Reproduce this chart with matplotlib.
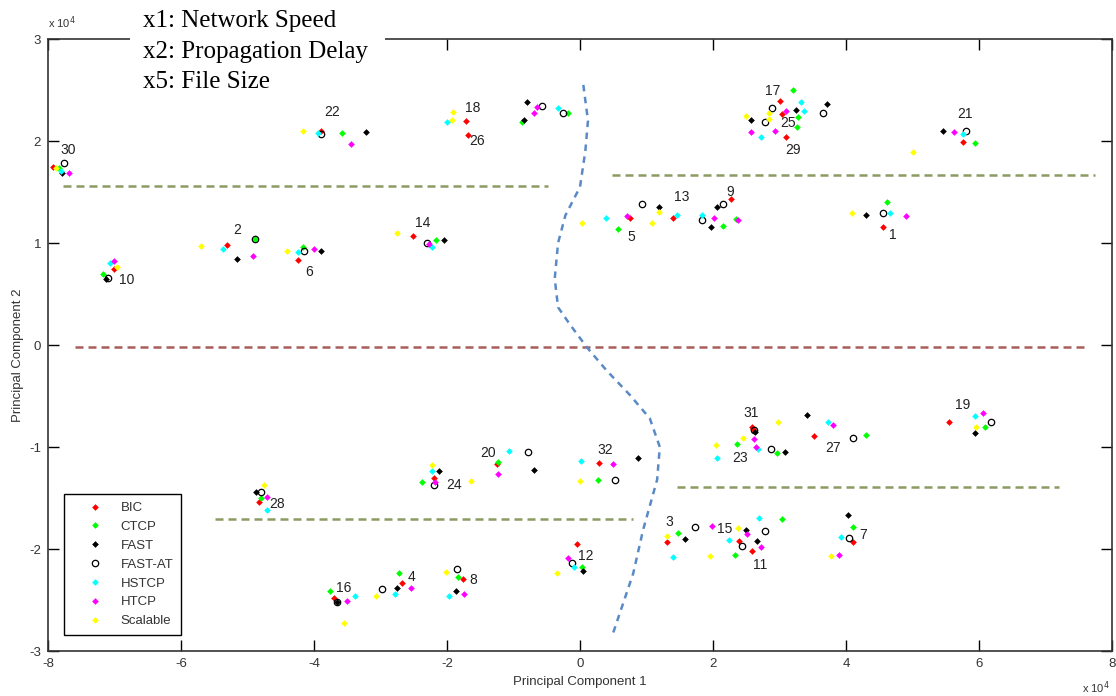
import numpy as np
import matplotlib
matplotlib.use("Agg")
import matplotlib.pyplot as plt
from matplotlib.patches import Rectangle

plt.rcParams['axes.unicode_minus'] = False

# scenario ids 1..32, coordinates in units of 1e4
groups = list(range(1, 33))

bic_x = [4.56, -5.31, 1.31, -2.68, 0.75, -4.24, 4.11, -1.76, 2.27, -7.01, 2.59, -0.05, 1.40, -2.51, 2.39, -3.70,
         3.00, -1.71, 5.55, -1.25, 5.76, -3.89, 2.60, -2.20, 3.04, -1.68, 3.52, -4.83, 3.10, -7.92, 2.59, 0.29]
bic_y = [1.16, 0.98, -1.93, -2.33, 1.25, 0.83, -1.93, -2.29, 1.43, 0.75, -2.02, -1.95, 1.25, 1.07, -1.92, -2.48,
         2.39, 2.20, -0.75, -1.17, 1.99, 2.10, -0.82, -1.30, 2.26, 2.06, -0.89, -1.54, 2.04, 1.75, -0.80, -1.16]

ctcp_x = [4.62, -4.89, 1.47, -2.72, 0.57, -4.17, 4.11, -1.83, 2.35, -7.17, 3.04, 0.03, 2.15, -2.17, 2.33, -3.76,
          3.20, -0.87, 6.09, -1.23, 5.94, -3.58, 2.96, -2.38, 3.28, -0.18, 4.30, -4.80, 3.26, -7.83, 2.36, 0.27]
ctcp_y = [1.40, 1.04, -1.84, -2.24, 1.14, 0.96, -1.78, -2.27, 1.24, 0.70, -1.71, -2.18, 1.17, 1.03, -2.06, -2.41,
          2.50, 2.19, -0.80, -1.15, 1.98, 2.08, -1.06, -1.34, 2.24, 2.27, -0.88, -1.50, 2.14, 1.74, -0.97, -1.32]

fast_x = [4.30, -5.16, 1.58, -2.75, 1.19, -3.89, 4.03, -1.86, 2.06, -7.13, 2.66, 0.05, 1.97, -2.05, 2.50, -3.65,
          3.25, -0.80, 5.94, -0.69, 5.46, -3.22, 3.08, -2.12, 3.71, -0.84, 3.41, -4.87, 2.57, -7.79, 2.63, 0.87]
fast_y = [1.27, 0.84, -1.90, -2.38, 1.35, 0.92, -1.67, -2.41, 1.35, 0.65, -1.92, -2.22, 1.16, 1.03, -1.81, -2.52,
          2.30, 2.38, -0.86, -1.23, 2.10, 2.09, -1.05, -1.24, 2.36, 2.21, -0.69, -1.44, 2.21, 1.69, -0.85, -1.11]

fastat_x = [4.56, -4.89, 1.73, -2.98, 0.93, -4.15, 4.05, -1.85, 2.15, -7.10, 2.78, -0.12, 1.83, -2.30, 2.44, -3.65,
            2.89, -0.57, 6.18, -0.78, 5.80, -3.89, 2.87, -2.20, 3.65, -0.26, 4.11, -4.80, 2.78, -7.76, 2.62, 0.53]
fastat_y = [1.29, 1.04, -1.78, -2.39, 1.38, 0.92, -1.89, -2.20, 1.38, 0.66, -1.82, -2.14, 1.23, 1.00, -1.97, -2.52,
            2.32, 2.34, -0.75, -1.05, 2.10, 2.07, -1.02, -1.37, 2.27, 2.27, -0.91, -1.44, 2.19, 1.78, -0.83, -1.32]

hstcp_x = [4.66, -5.37, 1.40, -2.78, 0.39, -4.24, 3.92, -1.97, 1.83, -7.07, 2.69, -0.09, 1.46, -2.23, 2.24, -3.38,
           3.32, -2.00, 5.94, -1.07, 5.76, -3.94, 2.06, -2.23, 3.37, -0.33, 3.73, -4.71, 2.72, -7.80, 2.68, 0.02]
hstcp_y = [1.29, 0.94, -2.08, -2.44, 1.25, 0.91, -1.88, -2.46, 1.27, 0.80, -1.70, -2.18, 1.27, 0.96, -1.91, -2.46,
           2.38, 2.19, -0.70, -1.04, 2.07, 2.08, -1.11, -1.24, 2.29, 2.32, -0.75, -1.62, 2.04, 1.71, -1.02, -1.14]

htcp_x = [4.90, -4.92, 1.98, -2.54, 0.71, -4.00, 3.89, -1.74, 2.38, -7.01, 2.72, -0.18, 2.02, -2.27, 2.51, -3.50,
          3.10, -0.65, 6.06, -1.23, 5.62, -3.44, 2.65, -2.18, 2.93, -0.69, 3.80, -4.71, 2.57, -7.68, 2.62, 0.49]
htcp_y = [1.26, 0.87, -1.77, -2.38, 1.26, 0.94, -2.06, -2.44, 1.23, 0.82, -1.98, -2.09, 1.25, 0.99, -1.85, -2.51,
          2.29, 2.33, -0.67, -1.26, 2.09, 1.97, -1.00, -1.34, 2.10, 2.27, -0.78, -1.49, 2.09, 1.69, -0.92, -1.17]

scal_x = [4.09, -5.70, 1.31, -3.07, 1.08, -4.41, 3.77, -2.02, 0.03, -6.96, 1.95, -0.35, 1.19, -2.75, 2.38, -3.55,
          2.84, -1.91, 5.95, -1.64, 5.01, -4.17, 2.05, -2.23, 2.50, -1.92, 2.98, -4.75, 2.84, -7.88, 2.45, 0.00]
scal_y = [1.29, 0.97, -1.87, -2.46, 1.20, 0.92, -2.07, -2.23, 1.20, 0.76, -2.07, -2.24, 1.30, 1.10, -1.79, -2.73,
          2.27, 2.28, -0.80, -1.33, 1.89, 2.10, -0.98, -1.18, 2.25, 2.21, -0.75, -1.37, 2.22, 1.74, -0.91, -1.33]

lab_x = [4.71, -5.16, 1.34, -2.54, 0.77, -4.08, 4.26, -1.61, 2.26, -6.81, 2.71, 0.08, 1.53, -2.36, 2.18, -3.56,
         2.90, -1.62, 5.76, -1.38, 5.79, -3.73, 2.41, -1.89, 3.13, -1.55, 3.80, -4.56, 3.20, -7.70, 2.57, 0.38]
lab_y = [1.08, 1.13, -1.74, -2.27, 1.06, 0.72, -1.86, -2.30, 1.50, 0.64, -2.16, -2.07, 1.45, 1.20, -1.80, -2.38,
         2.49, 2.32, -0.59, -1.06, 2.26, 2.28, -1.11, -1.37, 2.18, 2.00, -1.01, -1.56, 1.91, 1.91, -0.67, -1.03]

# hand drawn separators
sep_mid_x = [-7.6, 7.6]
sep_mid_y = [-0.02, -0.02]
sep_ul_x, sep_ul_y = [-7.77, -0.48], [1.56, 1.56]
sep_ur_x, sep_ur_y = [0.48, 7.74], [1.67, 1.67]
sep_ll_x, sep_ll_y = [-5.49, 0.80], [-1.71, -1.71]
sep_lr_x, sep_lr_y = [1.46, 7.20], [-1.39, -1.39]
curve_x = [0.05, 0.12, 0.08, 0.00, -0.22, -0.33, -0.38, -0.33, -0.15, 0.10, 0.40, 0.75, 1.05, 1.20, 1.16, 0.95, 0.80, 0.50]
curve_y = [2.55, 2.20, 1.90, 1.55, 1.27, 1.00, 0.65, 0.37, 0.20, -0.02, -0.25, -0.49, -0.72, -1.00, -1.32, -1.81, -2.24, -2.82]

W, H = 1116, 696
fig = plt.figure(figsize=(W / 100, H / 100), dpi=100)
ax = fig.add_axes([48 / W, 1 - 651 / H, 1064 / W, 612 / H])

olive = '#8c9b62'
ax.plot(sep_mid_x, sep_mid_y, color='#a85e5a', lw=1.8, dashes=(3.2, 2.0))
for sx, sy in [(sep_ul_x, sep_ul_y), (sep_ur_x, sep_ur_y), (sep_ll_x, sep_ll_y), (sep_lr_x, sep_lr_y)]:
    ax.plot(sx, sy, color=olive, lw=1.8, dashes=(3.2, 2.0))
ax.plot(curve_x, curve_y, color='#5a8ac6', lw=1.8, dashes=(2.6, 2.2))

ms = 3.4
ax.plot(bic_x, bic_y, 'D', color='red', ms=ms, mew=0, label='BIC')
ax.plot(ctcp_x, ctcp_y, 'D', color='#00ff00', ms=ms, mew=0, label='CTCP')
ax.plot(fast_x, fast_y, 'D', color='black', ms=ms, mew=0, label='FAST')
ax.plot(fastat_x, fastat_y, 'o', mfc='none', mec='black', ms=4.6, mew=0.9, label='FAST-AT')
ax.plot(hstcp_x, hstcp_y, 'D', color='cyan', ms=ms, mew=0, label='HSTCP')
ax.plot(htcp_x, htcp_y, 'D', color='magenta', ms=ms, mew=0, label='HTCP')
ax.plot(scal_x, scal_y, 'D', color='yellow', ms=ms, mew=0, label='Scalable')

for g, lx, ly in zip(groups, lab_x, lab_y):
    ax.text(lx, ly, str(g), fontsize=10, color='#222222', ha='center', va='center',
            family='Liberation Sans')

ax.set_xlim(-8, 8)
ax.set_ylim(-3, 3)
ax.set_xticks(range(-8, 9, 2))
ax.set_yticks(range(-3, 4))
ax.tick_params(direction='in', length=8, width=1, top=True, right=True,
               labelsize=9.5, labelcolor='#333333', pad=5)
for lbl in ax.get_xticklabels() + ax.get_yticklabels():
    lbl.set_family('Liberation Sans')
for sp in ax.spines.values():
    sp.set_linewidth(1.2)
    sp.set_color('#333333')

leg = ax.legend(loc='lower left', bbox_to_anchor=(0.015, 0.026), frameon=True, fancybox=False,
                edgecolor='black', framealpha=1, borderpad=0.6, handlelength=3.5,
                handletextpad=0.2, labelspacing=0.5, borderaxespad=0,
                prop={'family': 'Liberation Sans', 'size': 9.5})
leg.get_frame().set_linewidth(1.0)
for t in leg.get_texts():
    t.set_color('#333333')

fig.text(580 / W, 1 - 682 / H, 'Principal Component 1', ha='center', va='center',
         fontsize=9.5, color='#333333', family='Liberation Sans')
fig.text(18 / W, 1 - 355 / H, 'Principal Component 2', ha='center', va='center', rotation=90,
         fontsize=9.5, color='#333333', family='Liberation Sans')
fig.text(48 / W, 1 - 28 / H, r'x 10$^4$', fontsize=8, color='#333333', family='Liberation Sans')
fig.text(1082 / W, 1 - 693 / H, r'x 10$^4$', fontsize=8, color='#333333', family='Liberation Sans')

# white box with the factor list, covering the top border
fig.add_artist(Rectangle((130 / W, 1 - 95 / H), 255 / W, 95 / H, transform=fig.transFigure,
                         facecolor='white', edgecolor='none', zorder=5))
for txt, base in [('x1: Network Speed', 27), ('x2: Propagation Delay', 58), ('x5: File Size', 88)]:
    fig.text(143 / W, 1 - base / H, txt, fontsize=18, family='Liberation Serif',
             va='baseline', zorder=6)

fig.savefig('out.png', dpi=100)
